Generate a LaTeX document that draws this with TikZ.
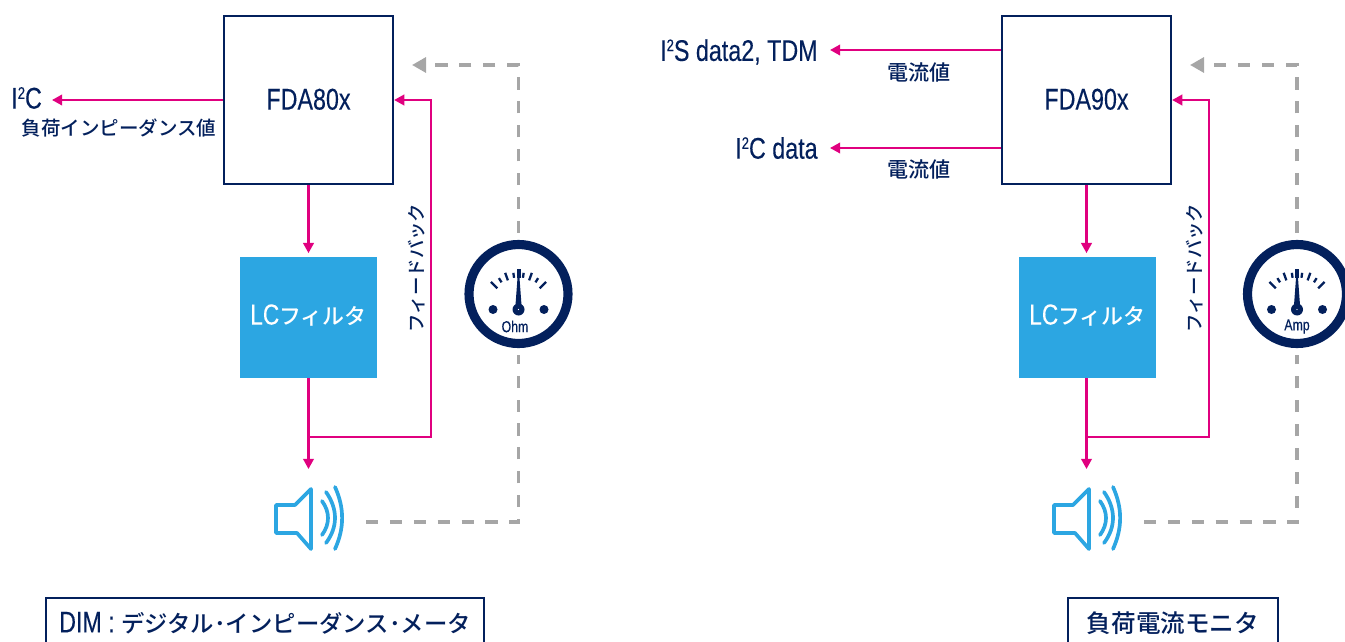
\documentclass[tikz,border=0pt]{standalone}
\usepackage{fontspec}
\setmainfont[FakeStretch=0.78,FakeBold=0.2]{Liberation Sans}
\newfontfamily\cjk{Noto Sans CJK JP Medium}
\usetikzlibrary{arrows.meta,calc}

\definecolor{navy}{HTML}{03205C}
\definecolor{pinkline}{HTML}{E0007F}
\definecolor{filterblue}{HTML}{2CA6E2}
\definecolor{dashgray}{HTML}{A6A6A6}

\newcommand{\suptwo}{\raisebox{0.62ex}{\fontsize{9.5}{10}\selectfont 2}}

\tikzset{
  chipbox/.style={draw=navy,line width=1.3pt,minimum width=3.38cm,minimum height=3.36cm,inner sep=0pt,text=navy,font=\fontsize{17}{18}\selectfont},
  filterbox/.style={fill=filterblue,minimum width=2.74cm,minimum height=2.42cm,inner sep=0pt,text=white,font=\fontsize{16.5}{18}\selectfont},
  captionbox/.style={draw=navy,line width=1.3pt,minimum height=1cm,inner sep=0pt,text=navy,font=\fontsize{17}{18}\selectfont},
  latlabel/.style={inner sep=0pt,text=navy,font=\fontsize{17}{18}\selectfont},
  jplabel/.style={inner sep=0pt,text=navy,font=\fontsize{11.1}{13}\cjk},
  sigline/.style={draw=pinkline,line width=1.3pt,-{Triangle[length=5.8pt,width=6pt]}},
  senseline/.style={draw=dashgray,line width=1.9pt,dash pattern=on 6.9pt off 6.7pt},
  sensearrow/.style={senseline,-{Triangle[length=8pt,width=8.5pt]}},
  gaugering/.style={circle,draw=navy,line width=5.2pt,minimum size=1.98cm,inner sep=0pt},
  speaker/.pic={
    \draw[filterblue,line width=2.1pt,line join=round,line cap=round]
      (-33,-13) -- (-14,-13) -- (2,-29) -- (2,31) -- (-12,15) -- (-33,15) -- cycle;
    \draw[filterblue,line width=2.1pt,line cap=round]
      (13,-17) .. controls (21,-6) and (21,6) .. (13,17);
    \draw[filterblue,line width=2.1pt,line cap=round]
      (17,-26) .. controls (29,-9) and (29,9) .. (17,25);
    \draw[filterblue,line width=2.1pt,line cap=round]
      (26,-31) .. controls (35.5,-10) and (35.5,10) .. (26,31);
  },
  gaugedial/.pic={
    \fill[navy] (0,15.5) circle (6);
    \fill[white] (0,15.5) circle (0.7);
    \fill[navy] (-25.5,15.5) circle (4.5);
    \fill[navy] (25.5,15.5) circle (4.5);
    \fill[navy] (-2,-25) rectangle (2,-16);
    \fill[navy] (-1,-16) -- (1,-16) -- (3,11) -- (-3,11) -- cycle;
    \foreach \ang/\rin/\rout in {135/30/39,122/32/37,110/31/39,98/32/37,82/32/37,70/31/39,58/32/37,45/30/39}
      \draw[navy,line width=1.3pt] ($(0,15.5)+(-\ang:\rin)$) -- ($(0,15.5)+(-\ang:\rout)$);
    \node[inner sep=0pt,text=navy,font=\fontsize{9}{10}\selectfont] at (0,32.5) {#1};
  },
}

\begin{document}
\begin{tikzpicture}[x=0.02cm,y=-0.02cm]
  \useasboundingbox (0,0) rectangle (1345,642);

  % left: impedance meter
  \node[chipbox] (fda80) at (308.5,100) {\raisebox{1pt}{FDA80x}};
  \node[filterbox] (lc80) at (308.5,317.5) {\raisebox{3.5pt}{LC{\cjk\fontsize{12.5}{18}\selectfont フィルタ}}};
  \node[gaugering] (ohm) at (518.5,294) {};
  \pic at (ohm) {gaugedial={\mbox{Ohm\hspace{4pt}}}};
  \pic at (309,518) {speaker};
  \coordinate (i2ctip80) at (52,100);
  \coordinate (spkin80) at (308.5,469);
  \coordinate (junc80) at (308.5,437);
  \coordinate (fbcorner80) at (431,437);
  \coordinate (spkout80) at (366,522);
  \coordinate (sensecorner80) at (518.5,522);
  \coordinate (sensetop80) at (518.5,65);
  \coordinate (senseend80) at (412,65);

  \node[latlabel,anchor=west] (i2c80) at (11,98) {I\suptwo C};
  \node[jplabel,anchor=east] (load80) at (216.5,128) {負荷インピーダンス値};
  \node[jplabel,rotate=90,font=\fontsize{10.5}{12}\cjk] (fb80) at (417,268) {フィードバック};

  \draw[sigline] (fda80.west) -- (i2ctip80);
  \draw[sigline,shorten >=2pt] (fda80) -- (lc80);
  \draw[sigline] (lc80) -- (spkin80);
  \draw[sigline] (junc80) -- (fbcorner80) |- (fda80.east);
  \draw[senseline] (spkout80) -- (sensecorner80) -- ($(ohm.south)+(0,7)$);
  \draw[sensearrow] ($(ohm.north)+(0,-7)$) -- (sensetop80) -- (senseend80);

  % right: load current monitor
  \node[chipbox] (fda90) at (1086.5,100) {\raisebox{1pt}{FDA90x}};
  \node[filterbox] (lc90) at (1087.5,317.5) {\raisebox{3.5pt}{LC{\cjk\fontsize{12.5}{18}\selectfont フィルタ}}};
  \node[gaugering] (amp) at (1297,294) {};
  \pic at (amp) {gaugedial={Amp}};
  \pic at (1087,518) {speaker};
  \coordinate (spkin90) at (1086.5,469);
  \coordinate (junc90) at (1086.5,437);
  \coordinate (fbcorner90) at (1209,437);
  \coordinate (spkout90) at (1144,522);
  \coordinate (sensecorner90) at (1297,522);
  \coordinate (sensetop90) at (1297,65);
  \coordinate (senseend90) at (1190,65);

  \node[latlabel,anchor=east] (i2s90) at (818,52) {I\suptwo S data2, TDM};
  \node[latlabel,anchor=east] (i2c90) at (818,148) {I\suptwo C data};
  \node[jplabel,font=\fontsize{12}{13}\cjk] (cur90a) at (919,72) {電流値};
  \node[jplabel,font=\fontsize{12}{13}\cjk] (cur90b) at (919,169) {電流値};
  \node[jplabel,rotate=90,font=\fontsize{10.5}{12}\cjk] (fb90) at (1195,268) {フィードバック};
  \coordinate (i2stip90) at (830,50);
  \coordinate (i2ctip90) at (830,148);

  \draw[sigline] (fda90.west |- i2stip90) -- (i2stip90);
  \draw[sigline] (fda90.west |- i2ctip90) -- (i2ctip90);
  \draw[sigline,shorten >=2pt] (fda90) -- (fda90 |- lc90.north);
  \draw[sigline] (fda90 |- lc90.south) -- (spkin90);
  \draw[sigline] (junc90) -- (fbcorner90) |- (fda90.east);
  \draw[senseline] (spkout90) -- (sensecorner90) -- ($(amp.south)+(0,7)$);
  \draw[sensearrow] ($(amp.north)+(0,-7)$) -- (sensetop90) -- (senseend90);

  % captions
  \node[captionbox,minimum width=8.76cm] (dimcap) at (265,623) {DIM : {\cjk\fontsize{13.3}{16}\selectfont デジタル･インピーダンス･メータ}};
  \node[captionbox,minimum width=4.2cm] (loadcap) at (1173,623) {{\cjk\fontsize{14}{16}\selectfont 負荷電流モニタ}};
\end{tikzpicture}
\end{document}
